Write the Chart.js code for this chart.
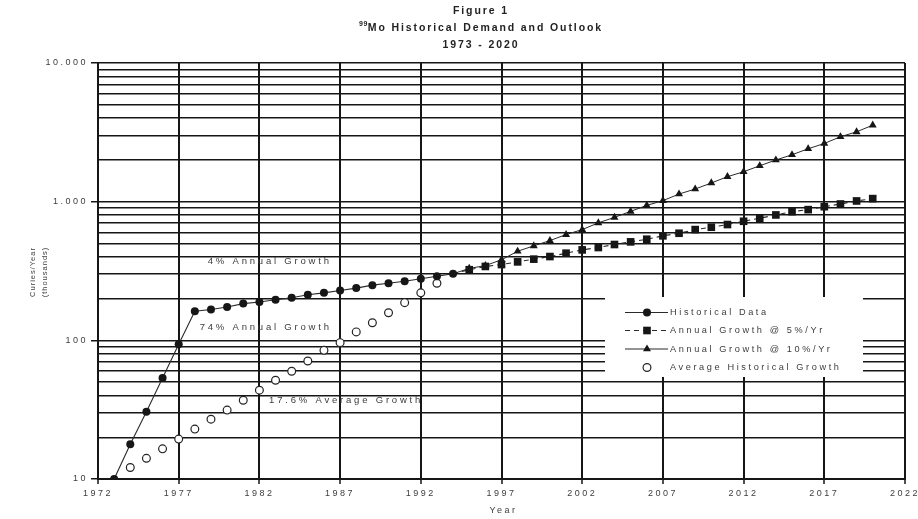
<!DOCTYPE html>
<html>
<head>
<meta charset="utf-8">
<title>99Mo Historical Demand and Outlook</title>
<script src="https://cdn.jsdelivr.net/npm/chart.js@4/dist/chart.umd.min.js"></script>
<style>
  html, body { margin: 0; padding: 0; background: #fff; }
  #wrap { width: 918px; height: 519px; position: relative; }
</style>
</head>
<body>
<div id="wrap"><canvas id="chart"></canvas></div>
<script>
// ---- data (thousands of curies per year) ----
const historicalYears = [1973, 1974, 1975, 1976, 1977, 1978, 1979, 1980, 1981, 1982, 1983,
                         1984, 1985, 1986, 1987, 1988, 1989, 1990, 1991, 1992, 1993, 1994];
const historicalValues = [10, 17.8, 30.6, 53.5, 93.6, 162, 167, 174, 184, 189, 196,
                          203, 213, 220, 229, 238, 250, 258, 267, 278, 290, 302];

const growth5Years = [1994, 1995, 1996, 1997, 1998, 1999, 2000, 2001, 2002, 2003, 2004, 2005, 2006,
                      2007, 2008, 2009, 2010, 2011, 2012, 2013, 2014, 2015, 2016, 2017, 2018, 2019, 2020];
const growth5Values = [302, 323, 341, 352, 368, 385, 402, 425, 449, 467, 491, 513, 536,
                       567, 592, 629, 654, 684, 722, 759, 802, 847, 876, 920, 962, 1012, 1052];

const growth10Years = [1994, 1995, 1996, 1997, 1998, 1999, 2000, 2001, 2002, 2003, 2004, 2005, 2006,
                       2007, 2008, 2009, 2010, 2011, 2012, 2013, 2014, 2015, 2016, 2017, 2018, 2019, 2020];
const growth10Values = [302, 330, 346, 381, 439, 480, 524, 579, 629, 703, 771, 851, 940,
                        1017, 1135, 1234, 1364, 1514, 1644, 1816, 1997, 2180, 2407, 2629, 2938, 3189, 3562];

const avgYears = [1974, 1975, 1976, 1977, 1978, 1979, 1980, 1981, 1982, 1983,
                  1984, 1985, 1986, 1987, 1988, 1989, 1990, 1991, 1992, 1993];
const avgValues = [12.1, 14.1, 16.5, 19.4, 22.9, 27, 31.4, 37, 43.7, 51.5,
                   59.8, 71, 84.7, 96.2, 115, 134, 158, 187, 220, 258];

// ---- axis ticks ----
const xTickYears = [1972, 1977, 1982, 1987, 1992, 1997, 2002, 2007, 2012, 2017, 2022];
const yGridValues = [10, 20, 30, 40, 50, 60, 70, 80, 90,
                     100, 200, 300, 400, 500, 600, 700, 800, 900,
                     1000, 2000, 3000, 4000, 5000, 6000, 7000, 8000, 9000, 10000];
const yMajorTicks = [10, 100, 1000, 10000];
const yMajorLabels = ['10', '100', '1.000', '10.000'];

// ---- text ----
const titleTop = 'Figure 1';
const titleIsotope = { mass: '99', rest: 'Mo Historical Demand and Outlook' };
const titleBottom = '1973 - 2020';
const yTitleLines = ['Curies/Year', '(thousands)'];
const xTitle = 'Year';
const notes = [
  { text: '4% Annual Growth',      year: 1978.8, value: 372 },
  { text: '74% Annual Growth',     year: 1978.3, value: 124 },
  { text: '17.6% Average Growth',  year: 1982.6, value: 36.8 }
];

const FONT = '"Liberation Sans", Arial, Helvetica, sans-serif';
const INK = '#161616';
const TEXT = '#3c3c3c';

const toPoints = (xs, ys) => xs.map((x, i) => ({ x: x, y: ys[i] }));

// custom text: title, axis titles, in-plot notes and the legend box
const decorations = {
  id: 'decorations',
  beforeLayout(chart) { chart.ctx.letterSpacing = '2.5px'; },
  beforeDraw(chart) { chart.ctx.letterSpacing = '2.5px'; },
  afterDraw(chart) {
    const ctx = chart.ctx;
    const xs = chart.scales.x, ys = chart.scales.y;
    const ca = chart.chartArea;
    ctx.save();

    // title
    const cx = 481;
    ctx.fillStyle = '#222';
    ctx.textBaseline = 'middle';
    ctx.letterSpacing = '1.9px';
    ctx.font = 'bold 10.5px ' + FONT;
    ctx.textAlign = 'center';
    ctx.fillText(titleTop, cx, 11);
    ctx.fillText(titleBottom, cx, 45);
    // second line with a raised mass number
    ctx.textAlign = 'left';
    ctx.font = 'bold 7px ' + FONT;
    ctx.letterSpacing = '0.5px';
    const wMass = ctx.measureText(titleIsotope.mass).width;
    ctx.font = 'bold 10.5px ' + FONT;
    ctx.letterSpacing = '1.9px';
    const wRest = ctx.measureText(titleIsotope.rest).width;
    const x0 = cx - (wMass + wRest) / 2;
    ctx.fillText(titleIsotope.rest, x0 + wMass, 28);
    ctx.font = 'bold 7px ' + FONT;
    ctx.letterSpacing = '0.5px';
    ctx.fillText(titleIsotope.mass, x0, 24);

    // y axis title (rotated, two lines)
    ctx.save();
    ctx.textAlign = 'center';
    ctx.translate(39, 272);
    ctx.rotate(-Math.PI / 2);
    ctx.font = '7.5px ' + FONT;
    ctx.letterSpacing = '1px';
    ctx.fillStyle = TEXT;
    ctx.fillText(yTitleLines[0], 0, -6);
    ctx.fillText(yTitleLines[1], 0, 6);
    ctx.restore();

    // x axis title
    ctx.textAlign = 'center';
    ctx.font = '9px ' + FONT;
    ctx.letterSpacing = '2.5px';
    ctx.fillStyle = TEXT;
    ctx.fillText(xTitle, (ca.left + ca.right) / 2 + 2, 511);

    // notes inside the plot
    ctx.textAlign = 'left';
    ctx.font = '9.5px ' + FONT;
    ctx.letterSpacing = '2.8px';
    notes.forEach(n => {
      ctx.fillText(n.text, xs.getPixelForValue(n.year), ys.getPixelForValue(n.value));
    });

    // legend box
    const lx = 605, ly = 297, lw = 258, lh = 80;
    ctx.fillStyle = '#fff';
    ctx.fillRect(lx, ly, lw, lh);
    const rows = [312.5, 330.5, 349, 367.5];
    chart.data.datasets.forEach((ds, i) => {
      const y = rows[i];
      ctx.save();
      if (ds.showLine !== false) {
        ctx.strokeStyle = ds.borderColor;
        ctx.lineWidth = 1.2;
        ctx.setLineDash(ds.borderDash || []);
        ctx.beginPath();
        ctx.moveTo(625, y);
        ctx.lineTo(668, y);
        ctx.stroke();
      }
      ctx.setLineDash([]);
      ctx.fillStyle = ds.pointBackgroundColor;
      ctx.strokeStyle = ds.pointBorderColor;
      ctx.lineWidth = ds.pointBorderWidth;
      Chart.helpers.drawPoint(ctx, {
        pointStyle: ds.pointStyle,
        radius: ds.legendRadius,
        rotation: 0,
        borderWidth: ds.pointBorderWidth
      }, 647, y);
      ctx.restore();
      ctx.fillStyle = TEXT;
      ctx.font = '9.2px ' + FONT;
      ctx.letterSpacing = '2.6px';
      ctx.textBaseline = 'middle';
      ctx.fillText(ds.label, 670, y);
    });

    ctx.restore();
  }
};

const firstHidden = r => ctx => (ctx.dataIndex === 0 ? 0 : r);

new Chart(document.getElementById('chart'), {
  type: 'scatter',
  data: {
    datasets: [
      {
        label: 'Historical Data',
        data: toPoints(historicalYears, historicalValues),
        showLine: true,
        borderColor: '#2a2a2a',
        borderWidth: 1.1,
        pointStyle: 'circle',
        pointRadius: 4,
        legendRadius: 4,
        pointBackgroundColor: INK,
        pointBorderColor: INK,
        pointBorderWidth: 0
      },
      {
        label: 'Annual Growth @ 5%/Yr',
        data: toPoints(growth5Years, growth5Values),
        showLine: true,
        borderColor: '#2a2a2a',
        borderWidth: 1.1,
        borderDash: [5, 4],
        pointStyle: 'rect',
        pointRadius: firstHidden(5.4),
        legendRadius: 5.4,
        pointBackgroundColor: INK,
        pointBorderColor: INK,
        pointBorderWidth: 0
      },
      {
        label: 'Annual Growth @ 10%/Yr',
        data: toPoints(growth10Years, growth10Values),
        showLine: true,
        borderColor: '#2a2a2a',
        borderWidth: 1,
        pointStyle: 'triangle',
        pointRadius: firstHidden(4.6),
        legendRadius: 4.6,
        pointBackgroundColor: INK,
        pointBorderColor: INK,
        pointBorderWidth: 0
      },
      {
        label: 'Average Historical Growth',
        data: toPoints(avgYears, avgValues),
        showLine: false,
        pointStyle: 'circle',
        pointRadius: 3.9,
        legendRadius: 3.9,
        pointBackgroundColor: '#fff',
        pointBorderColor: '#222',
        pointBorderWidth: 1.2
      }
    ]
  },
  options: {
    responsive: true,
    maintainAspectRatio: false,
    animation: false,
    events: [],
    layout: { padding: { top: 63, right: 13, left: 0, bottom: 0 } },
    plugins: {
      legend: { display: false },
      title: { display: false },
      tooltip: { enabled: false }
    },
    scales: {
      x: {
        type: 'linear',
        min: 1972,
        max: 2022,
        afterBuildTicks: s => { s.ticks = xTickYears.map(v => ({ value: v })); },
        afterFit: s => { s.height = 40; s.paddingLeft = 0; s.paddingRight = 0; },
        ticks: {
          autoSkip: false,
          maxRotation: 0,
          padding: 4,
          color: TEXT,
          font: { family: FONT, size: 9 },
          callback: v => String(v)
        },
        grid: { color: INK, lineWidth: 2, tickLength: 5, tickColor: INK, tickWidth: 1.5 },
        border: { display: true, color: INK, width: 2 }
      },
      y: {
        type: 'logarithmic',
        min: 10,
        max: 10000,
        afterBuildTicks: s => { s.ticks = yGridValues.map(v => ({ value: v })); },
        afterFit: s => { s.width = 98; s.paddingTop = 0; s.paddingBottom = 0; },
        ticks: {
          autoSkip: false,
          padding: 3,
          color: TEXT,
          font: { family: FONT, size: 9 },
          callback: v => {
            const i = yMajorTicks.indexOf(v);
            return i >= 0 ? yMajorLabels[i] : '';
          }
        },
        grid: {
          color: INK,
          lineWidth: 1.5,
          tickLength: 7,
          tickWidth: 1.5,
          tickColor: c => (c.tick && yMajorTicks.indexOf(c.tick.value) >= 0 ? INK : 'rgba(0,0,0,0)')
        },
        border: { display: true, color: INK, width: 2 }
      }
    }
  },
  plugins: [decorations]
});
</script>
</body>
</html>
